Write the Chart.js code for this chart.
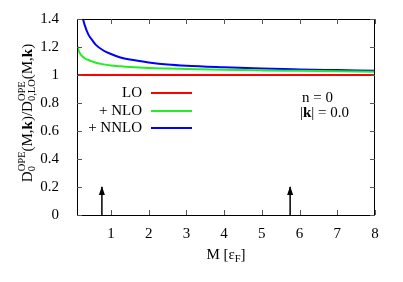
<!DOCTYPE html>
<html>
<head>
<meta charset="utf-8">
<script src="https://cdn.jsdelivr.net/npm/chart.js@4.4.1/dist/chart.umd.min.js"></script>
<style>
  html, body { margin: 0; padding: 0; background: #fff; }
</style>
</head>
<body>
<canvas id="chart" width="403" height="282"></canvas>
<script>
// ---- data ----
const massLO    = [0.1, 8];
const ratioLO   = [1, 1];

const massNLO   = [0.1, 0.15, 0.2, 0.3, 0.4, 0.5, 0.6, 0.8, 1, 1.25, 1.5, 2, 2.5, 3, 4, 5, 6, 7, 8];
const ratioNLO  = [1.213, 1.17, 1.145, 1.12, 1.107, 1.097, 1.088, 1.076, 1.068, 1.062, 1.057, 1.05, 1.046, 1.043, 1.037, 1.033, 1.03, 1.027, 1.024];

const massNNLO  = [0.26, 0.3, 0.4, 0.5, 0.6, 0.8, 1, 1.25, 1.5, 2, 2.5, 3, 4, 5, 6, 7, 8];
const ratioNNLO = [1.4, 1.36, 1.29, 1.25, 1.215, 1.175, 1.15, 1.125, 1.11, 1.09, 1.075, 1.066, 1.055, 1.046, 1.04, 1.035, 1.03];

const arrowMass = [0.76, 5.75];
const arrowTop  = 0.2;

const xTicks = [1, 2, 3, 4, 5, 6, 7, 8];
const yTicks = [0, 0.2, 0.4, 0.6, 0.8, 1, 1.2, 1.4];

const SERIF = '"Liberation Serif", "DejaVu Serif", serif';
const FS = 15;
const toPts = (xs, ys) => xs.map((x, i) => ({ x, y: ys[i] }));

// arrows are plain two-point segments, heads added in the plugin
const arrowSets = arrowMass.map(m => ({
  label: 'arrow', data: [{ x: m, y: 0 }, { x: m, y: arrowTop }],
  borderColor: '#000', borderWidth: 1.5, pointRadius: 0, clip: false
}));

// text with sub/superscripts
function richText(ctx, segs, x, y, size, dry) {
  let cx = x;
  segs.forEach(s => {
    if (s.stack) {
      ctx.font = `${size * 0.7}px ${SERIF}`;
      const w1 = ctx.measureText(s.sup).width, w2 = ctx.measureText(s.sub).width;
      if (!dry) {
        ctx.fillText(s.sup, cx, y - size * 0.38);
        ctx.fillText(s.sub, cx, y + size * 0.25);
      }
      cx += Math.max(w1, w2);
    } else {
      const sz = s.sub ? size * 0.7 : size;
      ctx.font = `${s.bold ? 'bold ' : ''}${sz}px ${SERIF}`;
      if (!dry) ctx.fillText(s.t, cx, s.sub ? y + size * 0.25 : y);
      cx += ctx.measureText(s.t).width;
    }
  });
  return cx - x;
}

const decor = {
  id: 'decor',
  afterDraw(chart) {
    const { ctx, chartArea: a, scales: { x, y } } = chart;
    ctx.save();
    ctx.strokeStyle = '#000';
    ctx.lineWidth = 1;
    ctx.strokeRect(a.left + 0.5, a.top + 0.5, a.right - a.left - 1, a.bottom - a.top);
    ctx.strokeStyle = '#555';
    ctx.beginPath();
    xTicks.forEach(v => {
      const px = Math.round(x.getPixelForValue(v)) + 0.5;
      ctx.moveTo(px, a.bottom); ctx.lineTo(px, a.bottom - 5);
      ctx.moveTo(px, a.top); ctx.lineTo(px, a.top + 5);
    });
    yTicks.forEach(v => {
      const py = Math.round(y.getPixelForValue(v)) + 0.5;
      ctx.moveTo(a.left, py); ctx.lineTo(a.left + 5, py);
      ctx.moveTo(a.right, py); ctx.lineTo(a.right - 5, py);
    });
    ctx.stroke();

    // arrow heads
    ctx.fillStyle = '#000';
    arrowMass.forEach(m => {
      const px = x.getPixelForValue(m), py = y.getPixelForValue(arrowTop);
      ctx.beginPath();
      ctx.moveTo(px, py - 1);
      ctx.lineTo(px - 3, py + 8);
      ctx.lineTo(px + 3, py + 8);
      ctx.closePath();
      ctx.fill();
    });

    // legend
    const legend = [['LO', '#ff0000', 93], ['+ NLO', '#22ee22', 111], ['+ NNLO', '#0000ff', 128]];
    ctx.font = `${FS}px ${SERIF}`;
    ctx.textBaseline = 'middle';
    ctx.textAlign = 'right';
    ctx.fillStyle = '#000';
    legend.forEach(([t, c, ly]) => {
      ctx.fillText(t, 142, ly);
      ctx.strokeStyle = c; ctx.lineWidth = 2;
      ctx.beginPath(); ctx.moveTo(151, ly); ctx.lineTo(192, ly); ctx.stroke();
    });
    ctx.textAlign = 'left';
    ctx.fillText('n = 0', 302, 98);
    richText(ctx, [{ t: '|' }, { t: 'k', bold: true }, { t: '| = 0.0' }], 300, 113, FS);

    // x title
    const xt = [{ t: 'M [ε' }, { t: 'F', sub: true }, { t: ']' }];
    const w = richText(ctx, xt, 0, 0, FS, true);
    richText(ctx, xt, (a.left + a.right) / 2 - w / 2, 255, FS);

    // y title, rotated
    ctx.translate(28, 113);
    ctx.rotate(-Math.PI / 2);
    const segs = [{ t: 'D' }, { stack: true, sup: 'OPE', sub: '0' }, { t: '(M,' }, { t: 'k', bold: true },
      { t: ')/D' }, { stack: true, sup: 'OPE', sub: '0,LO' }, { t: '(M,' }, { t: 'k', bold: true }, { t: ')' }];
    const tw = richText(ctx, segs, 0, 0, FS, true);
    richText(ctx, segs, -tw / 2, 0, FS);
    ctx.restore();
  }
};

new Chart(document.getElementById('chart').getContext('2d'), {
  type: 'line',
  data: {
    datasets: [
      { label: 'LO', data: toPts(massLO, ratioLO), borderColor: '#ff0000', borderWidth: 2, pointRadius: 0 },
      { label: '+ NLO', data: toPts(massNLO, ratioNLO), borderColor: '#22ee22', borderWidth: 2, pointRadius: 0, cubicInterpolationMode: 'monotone' },
      { label: '+ NNLO', data: toPts(massNNLO, ratioNNLO), borderColor: '#0000ff', borderWidth: 2, pointRadius: 0, cubicInterpolationMode: 'monotone' },
      ...arrowSets
    ]
  },
  options: {
    responsive: false,
    animation: false,
    layout: { padding: { left: 0, top: 18, right: 28, bottom: 0 } },
    plugins: { legend: { display: false }, tooltip: { enabled: false } },
    scales: {
      x: {
        type: 'linear', min: 0.1, max: 8,
        afterBuildTicks: s => { s.ticks = xTicks.map(v => ({ value: v })); },
        afterFit: s => { s.height = 67; },
        grid: { display: false }, border: { display: false },
        ticks: { color: '#000', padding: 2, font: { family: SERIF, size: FS } }
      },
      y: {
        min: 0, max: 1.4,
        afterBuildTicks: s => { s.ticks = yTicks.map(v => ({ value: v })); },
        afterFit: s => { s.width = 77; },
        grid: { display: false }, border: { display: false },
        ticks: { color: '#000', padding: 10, font: { family: SERIF, size: FS }, callback: v => String(v) }
      }
    }
  },
  plugins: [decor]
});
</script>
</body>
</html>
